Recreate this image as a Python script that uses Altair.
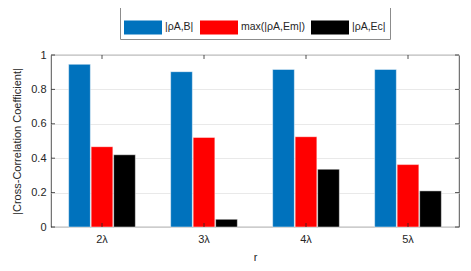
import altair as alt
import pandas as pd

categories = ["2λ", "3λ", "4λ", "5λ"]
series = ["|ρA,B|", "max(|ρA,Em|)", "|ρA,Ec|"]
rho_ab = [0.946, 0.903, 0.916, 0.916]
rho_aem = [0.467, 0.521, 0.525, 0.363]
rho_aec = [0.420, 0.045, 0.336, 0.210]
colors = ["#0072BD", "#FF0000", "#000000"]
y_ticks = [0, 0.2, 0.4, 0.6, 0.8, 1]

rows = []
for s, vals in zip(series, [rho_ab, rho_aem, rho_aec]):
    for c, v in zip(categories, vals):
        rows.append({"r": c, "series": s, "value": v})
df = pd.DataFrame(rows)
df_y = pd.DataFrame({"value": y_ticks})
df_x = pd.DataFrame({"r": categories})

font = "Liberation Sans"
fg = "#262626"

xscale = alt.Scale(domain=categories, paddingInner=0, paddingOuter=0)
yscale = alt.Scale(domain=[0, 1], nice=False)

x_axis = alt.Axis(title="r", labelAngle=0, ticks=False, domain=False,
                  labelFontSize=11, titleFontSize=11, labelPadding=6,
                  titlePadding=7, titleFontWeight="normal",
                  labelColor=fg, titleColor=fg, labelFont=font, titleFont=font)
y_axis = alt.Axis(title="|Cross-Correlation Coefficient|", values=y_ticks,
                  format="~g", ticks=False, domain=False, labelOverlap=False,
                  grid=True, gridColor="#e3e3e3", gridWidth=0.8,
                  labelFontSize=11, titleFontSize=11, labelPadding=5,
                  titlePadding=8, titleFontWeight="normal",
                  labelColor=fg, titleColor=fg, labelFont=font, titleFont=font)

bars = alt.Chart(df).mark_bar(stroke="#ffffff", strokeWidth=0.6, strokeOpacity=0.8).encode(
    x=alt.X("r:N", sort=categories, scale=xscale, axis=x_axis),
    xOffset=alt.XOffset("series:N", sort=series,
                        scale=alt.Scale(paddingInner=0.035, paddingOuter=0.784)),
    y=alt.Y("value:Q", scale=yscale, axis=y_axis),
    color=alt.Color("series:N", sort=series,
                    scale=alt.Scale(domain=series, range=colors),
                    legend=alt.Legend(title=None, orient="none", legendX=69, legendY=-51,
                                      direction="horizontal", columns=3,
                                      symbolType="M-1,-0.37L1,-0.37L1,0.37L-1,0.37Z",
                                      symbolSize=1444, symbolStrokeWidth=0,
                                      labelFontSize=10.5, labelFont=font, labelColor=fg,
                                      labelOffset=3, columnPadding=6,
                                      strokeColor="#8c8c8c", fillColor="white",
                                      padding=4)),
)

ytick_left = alt.Chart(df_y).mark_rule(color=fg, strokeWidth=0.8).encode(
    y=alt.Y("value:Q", scale=yscale, axis=y_axis), x=alt.value(0), x2=alt.value(4))
ytick_right = alt.Chart(df_y).mark_rule(color=fg, strokeWidth=0.8).encode(
    y=alt.Y("value:Q", scale=yscale, axis=y_axis), x=alt.value(404), x2=alt.value(408))
xtick_top = alt.Chart(df_x).mark_rule(color=fg, strokeWidth=0.8).encode(
    x=alt.X("r:N", sort=categories, scale=xscale, bandPosition=0.5, axis=x_axis),
    y=alt.value(0), y2=alt.value(4))
xtick_bot = alt.Chart(df_x).mark_rule(color=fg, strokeWidth=0.8).encode(
    x=alt.X("r:N", sort=categories, scale=xscale, bandPosition=0.5, axis=x_axis),
    y=alt.value(168), y2=alt.value(172))

chart = alt.layer(bars, ytick_left, ytick_right, xtick_top, xtick_bot).properties(
    width=408, height=172,
    autosize=alt.AutoSizeParams(type="none"),
    padding={"left": 43, "top": 47, "right": 4, "bottom": 36},
).configure_view(stroke=fg, strokeWidth=0.8).configure_axis(gridOpacity=1)

chart.save("out.html", embed_options={"renderer": "svg", "actions": False})
